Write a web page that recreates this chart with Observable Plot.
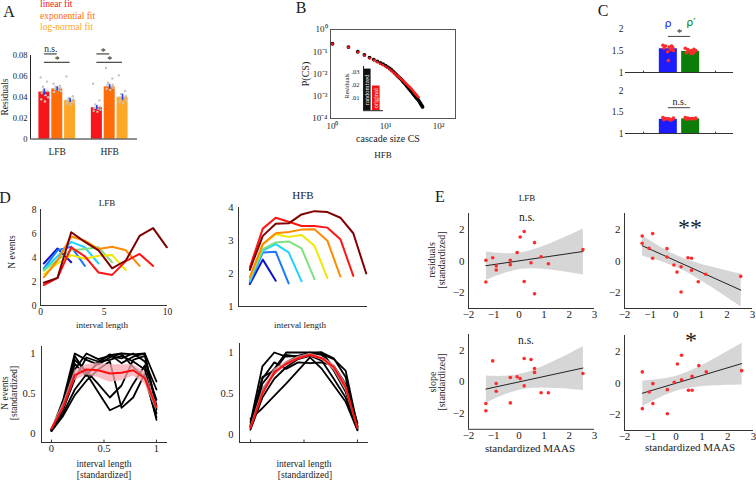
<!DOCTYPE html>
<html><head><meta charset="utf-8">
<script src="https://cdn.jsdelivr.net/npm/d3@7"></script>
<script src="https://cdn.jsdelivr.net/npm/@observablehq/plot@0.6"></script>
<style>
body{margin:0;background:#fff;}
#fig{position:relative;width:756px;height:481px;overflow:hidden;font-family:"Liberation Serif","Times New Roman",serif;color:#1a1a1a;background:#fff;}
#fig svg, #fig svg text, #fig svg g{font-family:"Liberation Serif","Times New Roman",serif !important;}
.lbl{position:absolute;white-space:nowrap;line-height:1;}
</style></head><body><div id="fig"></div>
<script>
// ---------------- DATA ----------------
// Panel A
const fitNames = ["linear fit", "exponential fit", "log-normal fit"];
const fitColors = ["#f5161b", "#ff6c0a", "#ffa726"];
const bandNames = ["LFB", "HFB"];
const residMean = [0.045, 0.048, 0.037, 0.030, 0.050, 0.040];
const residSem = [0.003, 0.002, 0.002, 0.002, 0.002, 0.003];
const residSubj = [
  [0.059, 0.055, 0.050, 0.046, 0.044, 0.042, 0.040, 0.038, 0.036, 0.047],
  [0.053, 0.051, 0.050, 0.049, 0.048, 0.047, 0.046, 0.045, 0.049, 0.048],
  [0.060, 0.041, 0.039, 0.038, 0.037, 0.036, 0.035, 0.034, 0.033, 0.037],
  [0.053, 0.037, 0.033, 0.031, 0.030, 0.029, 0.028, 0.027, 0.026, 0.030],
  [0.068, 0.058, 0.054, 0.052, 0.051, 0.050, 0.049, 0.048, 0.047, 0.053],
  [0.061, 0.046, 0.043, 0.041, 0.040, 0.039, 0.037, 0.036, 0.034, 0.038]];
const subjJitter = [-0.07, 0.05, -0.03, 0.06, -0.05, 0.02, 0.07, -0.06, 0.01, -0.02];
const sigA = [
  {a: 0, b: 1, y: 0.0815, t: "n.s."}, {a: 0, b: 2, y: 0.0735, t: "*"},
  {a: 3, b: 4, y: 0.0815, t: "*"}, {a: 3, b: 5, y: 0.0735, t: "*"}];

// Panel B
const cascadeSize = [1,2,3,4,5,6,7,8,9,10,11,12,13,14,15,16,17,18,19,20,21,22,23,24,25,26,27,28,29,30,31,32,33,34,35,36,37,38,39,40,42,44,46,48,50];
const pRandomized = [0.229,0.162,0.100,0.072,0.055,0.0447,0.0372,0.0316,0.0275,0.024,0.0204,0.0178,0.0151,0.0129,0.011,0.0093,0.0081,0.0071,0.0063,0.0056,0.0049,0.0043,0.0038,0.0034,0.0030,0.0027,0.0024,0.0022,0.00195,0.00178,0.00162,0.00148,0.00135,0.00123,0.00112,0.00105,0.00095,0.00089,0.00083,0.00076,0.00065,0.00055,0.00046,0.00039,0.00033];
const pOriginal = [0.225,0.160,0.098,0.068,0.051,0.041,0.034,0.029,0.025,0.0215,0.0185,0.016,0.0138,0.012,0.0104,0.0091,0.008,0.0071,0.0064,0.0058,0.0052,0.0047,0.0042,0.0038,0.0035,0.0032,0.0029,0.0027,0.0025,0.0023,0.0021,0.0019,0.00175,0.0016,0.00148,0.00137,0.00127,0.00118,0.0011,0.00102,0.0009];
const insetNames = ["randomized", "original"];
const insetResid = [0.032, 0.019];
const insetColors = ["#111111", "#ee1515"];

// Panel C
const cNames = ["ρ", "ρ′"];
const cColors = ["#1c1cff", "#0b7d0b"];
const cTopMean = [1.54, 1.48];
const cBotMean = [1.33, 1.34];
const cTopSubj = [[1.62, 1.60, 1.58, 1.57, 1.55, 1.52, 1.50, 1.47, 1.60, 1.27], [1.55, 1.52, 1.50, 1.48, 1.45, 1.43, 1.50, 1.47, 1.53, 1.44]];
const cBotSubj = [[1.37, 1.35, 1.34, 1.33, 1.32, 1.31, 1.36, 1.34], [1.37, 1.36, 1.35, 1.34, 1.33, 1.35, 1.36, 1.34]];
const cJitter = [-0.15, -0.08, 0.02, 0.12, -0.12, 0.06, 0.14, -0.02, 0.09, 0.0];

// Panel D
const jetColors = ["#1414c8", "#1a78ff", "#1fd4ff", "#7fe07f", "#f0e800", "#ff8a00", "#ff1414", "#800000"];
const lfbInterval = [0.26, 1.34, 2.42, 3.49, 4.57, 5.64, 6.72, 7.8, 8.87, 9.95];
const lfbEvents = [
  [3.5, 4.75, 3.6],
  [3.1, 4.6, 4.9, 3.3],
  [3.0, 4.1, 5.3, 4.85, 3.5],
  [2.9, 3.8, 4.6, 4.7, 4.85, 3.6],
  [2.6, 3.5, 4.2, 3.9, 4.15, 4.2, 2.95],
  [2.35, 3.75, 5.75, 5.4, 4.7, 4.9, 4.6, 3.3],
  [1.7, 2.3, 4.85, 4.1, 2.75, 2.55, 3.7, 4.3, 3.3],
  [1.9, 2.3, 6.1, 5.3, 4.6, 3.1, 3.75, 5.8, 6.45, 4.85]];
const hfbInterval = [1, 2, 3, 4, 5, 6, 7, 8, 9, 10];
const hfbEvents = [
  [1.68, 2.42, 1.78],
  [1.73, 2.64, 2.66, 1.70],
  [1.78, 2.69, 2.89, 2.64, 1.76],
  [1.83, 2.74, 2.94, 2.97, 2.76, 1.83],
  [1.88, 2.89, 3.19, 3.11, 3.17, 2.84, 1.86],
  [1.88, 2.89, 3.22, 3.26, 3.33, 3.34, 2.99, 1.91],
  [2.19, 3.36, 3.69, 3.57, 3.44, 3.44, 3.39, 3.04, 1.93],
  [2.11, 3.14, 3.51, 3.52, 3.79, 3.89, 3.86, 3.69, 3.22, 2.0]];
const stdInterval = [0, 0.111, 0.222, 0.333, 0.444, 0.556, 0.667, 0.778, 0.889, 1];
const lfbStd = [
  [0.04, 0.42, 1.00, 0.92, 0.86, 0.95, 1.00, 0.99, 1.00, 0.65],
  [0.03, 0.38, 0.97, 0.75, 0.52, 0.29, 0.36, 0.62, 0.85, 0.42],
  [0.05, 0.30, 0.80, 1.00, 0.93, 0.97, 0.94, 1.00, 0.90, 0.55],
  [0.04, 0.25, 0.55, 0.74, 0.88, 0.99, 0.88, 0.96, 1.00, 0.30],
  [0.06, 0.33, 0.87, 0.72, 0.90, 0.98, 1.00, 0.83, 0.70, 0.20],
  [0.03, 0.22, 0.48, 0.66, 0.80, 0.90, 0.32, 0.45, 0.75, 0.17],
  [0.05, 0.36, 0.92, 0.78, 0.62, 0.45, 0.60, 0.92, 0.97, 0.35],
  [0.04, 0.30, 0.68, 0.95, 0.90, 0.92, 0.97, 0.90, 0.80, 0.25]];
const lfbStdMean = [0.06, 0.33, 0.73, 0.80, 0.79, 0.75, 0.76, 0.79, 0.69, 0.33];
const lfbStdLo = [0.04, 0.29, 0.66, 0.73, 0.70, 0.64, 0.66, 0.72, 0.62, 0.28];
const lfbStdHi = [0.08, 0.38, 0.79, 0.86, 0.88, 0.86, 0.86, 0.86, 0.77, 0.38];
const hfbStd = [
  [0.15, 0.83, 1.00, 0.95, 0.96, 0.97, 0.98, 0.92, 0.78, 0.10],
  [0.10, 0.62, 0.80, 1.00, 1.00, 1.00, 1.00, 0.93, 0.70, 0.08],
  [0.19, 0.32, 0.47, 0.62, 0.78, 0.94, 0.80, 0.60, 0.40, 0.05],
  [0.10, 0.68, 0.88, 0.80, 0.88, 0.87, 0.88, 0.84, 0.62, 0.14],
  [0.08, 0.55, 0.74, 0.88, 0.96, 1.00, 0.97, 0.78, 0.52, 0.07],
  [0.12, 0.70, 0.78, 0.97, 0.95, 0.99, 1.00, 0.82, 0.57, 0.10],
  [0.06, 0.45, 0.68, 0.82, 0.92, 0.96, 0.90, 0.68, 0.45, 0.06]];
const hfbStdMean = [0.08, 0.50, 0.76, 0.86, 0.93, 0.97, 0.93, 0.82, 0.58, 0.08];
const hfbStdLo = [0.06, 0.45, 0.72, 0.83, 0.91, 0.95, 0.91, 0.78, 0.53, 0.06];
const hfbStdHi = [0.10, 0.55, 0.80, 0.89, 0.95, 0.99, 0.95, 0.86, 0.63, 0.10];

// Panel E
const maas = [-1.31, -1.31, -1.04, -0.9, -0.9, -0.34, -0.34, -0.07, 0.05, 0.21, 0.21, 0.48, 0.62, 0.62, 0.88, 1.17, 2.54];
const residLFB = [0.04, -1.33, 0.21, -0.32, -0.57, 0.04, -0.23, 0.53, 1.52, 1.86, -1.29, -0.11, 1.16, -2.07, 0.27, -0.17, 0.72];
const residHFB = [1.58, 1.12, 0.8, 1.73, 0.17, 0.78, 0.25, -0.25, -0.7, -0.36, -1.96, 0.21, 0.17, -0.59, -1.31, -0.84, -0.97];
const slopeLFB = [-1.37, -1.83, 1.33, -0.1, -0.59, 0.28, -1.33, 0.32, 0.21, 1.48, -0.25, 1.42, 0.85, 0.6, -0.69, -0.69, 0.53];
const slopeHFB = [0.7, -1.62, -0.57, -0.04, -1.3, -0.42, -1.94, 0.04, 1.2, 1.75, 0.21, -0.46, -0.46, 0.42, 1.1, 0.7, 0.78];

// ---------------- HELPERS ----------------
const fig = document.getElementById("fig");
const SERIF = '"Liberation Serif", "Times New Roman", serif';
function mk(box, m, fs, opts) {
  const [x0, x1, y0, y1] = box;
  const svg = Plot.plot(Object.assign({
    width: x1 - x0 + m[3] + m[1], height: y1 - y0 + m[0] + m[2],
    marginTop: m[0], marginRight: m[1], marginBottom: m[2], marginLeft: m[3],
    color: {type: "identity"},
    style: `font-family: ${SERIF}; font-size: ${fs}px; color: #1a1a1a; background: transparent; overflow: visible;`
  }, opts));
  svg.style.position = "absolute";
  svg.style.left = (x0 - m[3]) + "px";
  svg.style.top = (y0 - m[0]) + "px";
  svg.style.fontFamily = SERIF;
  svg.style.fontSize = fs + "px";
  fig.appendChild(svg);
  return svg;
}
function lab(t, x, y, o = {}) {
  const d = document.createElement("div");
  d.className = "lbl";
  d.textContent = t;
  d.style.left = x + "px";
  d.style.top = y + "px";
  d.style.fontSize = (o.s || 9) + "px";
  if (o.c) d.style.color = o.c;
  if (o.f) d.style.fontFamily = o.f;
  if (o.w) d.style.fontWeight = o.w;
  const a = o.a || "middle";
  const tx = a === "start" ? "0" : a === "end" ? "-100%" : "-50%";
  d.style.transform = `translate(${tx},-50%)` + (o.r ? ` rotate(${o.r}deg)` : "");
  fig.appendChild(d);
}
const sup = {"0": "⁰", "1": "¹", "2": "²", "3": "³", "4": "⁴", "-": "⁻"};
const pow10 = d => "10" + String(Math.round(Math.log10(d))).split("").map(c => sup[c]).join("");
const numFmt = d => (d < 0 ? "\u2212" + Math.abs(d) : String(d));

// ---------------- PANEL A ----------------
const aBars = residMean.map((m, i) => {
  const g = Math.floor(i / 3), f = i % 3;
  const x = g + 1 + (f - 1) * 0.245;
  return {x, m, lo: m - residSem[i], hi: m + residSem[i], c: fitColors[f]};
});
const aDots = [];
residSubj.forEach((arr, i) => arr.forEach((v, k) => aDots.push({x: aBars[i].x + subjJitter[k], y: v})));
const aSig = sigA.map(s => ({x1: aBars[s.a].x, x2: aBars[s.b].x, y: s.y, t: s.t}));
mk([30, 137, 54.5, 138], [12, 4, 22, 30], 8.5, {
  x: {domain: [0.49, 2.53], axis: null},
  y: {domain: [0, 0.08], axis: null},
  marks: [
    Plot.rectY(aBars, {x1: d => d.x - 0.105, x2: d => d.x + 0.105, y1: 0, y2: "m", fill: "c"}),
    Plot.dot(aDots, {x: "x", y: "y", r: 1.2, fill: "#c4c4c4"}),
    Plot.ruleX(aBars, {x: "x", y1: "lo", y2: "hi", stroke: "#2a3cf0", strokeWidth: 1.6}),
    Plot.ruleX([0.49], {stroke: "#222"}),
    Plot.ruleY([0], {stroke: "#222"}),
    Plot.axisY({ticks: [0, 0.02, 0.04, 0.06, 0.08], tickFormat: d => d === 0 ? "0" : d.toFixed(2), tickSize: 0, tickPadding: 3, label: null}),
    Plot.axisX({ticks: [1, 2], tickFormat: d => bandNames[d - 1], tickSize: 0, tickPadding: 9, label: null, fontSize: 9.5}),
    Plot.ruleY(aSig, {x1: "x1", x2: "x2", y: "y", stroke: "#222"}),
    Plot.text(aSig.filter(d => d.t !== "*"), {x: d => (d.x1 + d.x2) / 2, y: "y", text: "t", dy: -5, fontSize: 9.5}),
    Plot.text(aSig.filter(d => d.t === "*"), {x: d => (d.x1 + d.x2) / 2, y: "y", text: "t", dy: -2, fontSize: 10})
  ]
});
lab("A", 9, 12, {s: 16});
fitNames.forEach((n, i) => lab(n, 40, 5 + i * 11.5, {s: 9.5, c: fitColors[i], a: "start"}));
lab("Residuals", 6, 97, {s: 9.5, r: -90});

// ---------------- PANEL B ----------------
const bRand = cascadeSize.map((c, i) => ({c, p: pRandomized[i]}));
const bOrig = pOriginal.map((p, i) => ({c: cascadeSize[i], p}));
mk([330, 455, 29, 118], [6, 4, 20, 28], 9, {
  x: {type: "log", domain: [0.917, 209], axis: null},
  y: {type: "log", domain: [1e-4, 1], axis: null},
  marks: [
    Plot.frame({stroke: "#555"}),
    Plot.dot(bRand, {x: "c", y: "p", r: 1.9, fill: "#000"}),
    Plot.dot(bOrig, {x: "c", y: "p", r: 1.3, fill: "#ff1a1a"}),
    Plot.axisX({ticks: [1, 10, 100], tickFormat: pow10, tickSize: 0, tickPadding: 4, label: null}),
    Plot.axisY({ticks: [1e-4, 1e-3, 1e-2, 1e-1, 1], tickFormat: pow10, tickSize: 0, tickPadding: 3, label: null})
  ]
});
const insetRows = insetNames.map((n, i) => ({n, v: insetResid[i], x1: i * 0.45, x2: i * 0.45 + 0.38, c: insetColors[i]}));
mk([363, 383, 65.8, 110], [2, 2, 2, 24], 6.5, {
  x: {domain: [0, 1], axis: null},
  y: {domain: [0, 0.034], axis: null},
  marks: [
    Plot.rectY(insetRows, {x1: "x1", x2: "x2", y1: 0, y2: "v", fill: "c"}),
    Plot.text(insetRows, {x: d => (d.x1 + d.x2) / 2, y: d => d.v / 2, text: "n", rotate: -90, fill: "white", fontSize: 6.5}),
    Plot.ruleY([0], {stroke: "#222"}),
    Plot.ruleX([0], {y1: 0, y2: 0.034, stroke: "#222"}),
    Plot.axisY({ticks: [0.01, 0.02, 0.03], tickFormat: d => d.toFixed(2).slice(1), tickSize: 0, tickPadding: 4, label: null})
  ]
});
lab("B", 301, 8, {s: 16});
lab("P(CS)", 306, 74, {s: 10, r: -90});
lab("Residuals", 347, 86, {s: 6.5, r: -90});
lab("cascade size CS", 388, 139, {s: 10});
lab("HFB", 383, 155, {s: 9});

// ---------------- PANEL C ----------------
function panelC(box, means, subj, sig, showNames) {
  const bars = means.map((m, i) => ({x: 2 + (i === 0 ? -0.31 : 0.31), m, c: cColors[i], n: cNames[i]}));
  const dots = [];
  subj.forEach((arr, i) => arr.forEach((v, k) => dots.push({x: bars[i].x + cJitter[k], y: v})));
  const marks = [
    Plot.rectY(bars, {x1: d => d.x - 0.25, x2: d => d.x + 0.25, y1: 1, y2: "m", fill: "c"}),
    Plot.dot(dots, {x: "x", y: "y", r: 1.8, fill: "#ff2a2a"}),
    Plot.ruleY([1], {stroke: "#333"}),
    Plot.ruleX([1, 3], {y1: 1, y2: 1.03, stroke: "#333"}),
    Plot.axisY({ticks: [1, 1.5, 2], tickFormat: d => String(d), tickSize: 0, tickPadding: 2, label: null}),
    Plot.ruleY([sig], {x1: bars[0].x, x2: bars[1].x, y: "y", stroke: "#444"}),
    Plot.text([sig], {x: 2, y: "y", text: "t", dy: sig.t === "*" ? -4 : -6, fontSize: sig.t === "*" ? 11 : 10})
  ];
  mk(box, [4, 4, 4, 24], 9.5, {
    x: {domain: [0.5, 3.5], axis: null},
    y: {domain: [1, 2], axis: null},
    marks
  });
}
panelC([625, 733, 28, 72], cTopMean, cTopSubj, {y: 1.82, t: "*"}, true);
panelC([625, 733, 90, 133], cBotMean, cBotSubj, {y: 1.6, t: "n.s."}, false);
lab("C", 603, 11, {s: 16});
lab(cNames[0], 668, 23, {s: 11, c: cColors[0], f: '"DejaVu Sans", sans-serif'});
lab(cNames[1], 691, 22, {s: 11, c: cColors[1], f: '"DejaVu Sans", sans-serif'});

// ---------------- PANEL D ----------------
const dTL = [];
lfbEvents.forEach((arr, k) => arr.forEach((v, i) => dTL.push({k, x: lfbInterval[i], y: v, c: jetColors[k]})));
mk([40, 167, 209, 305], [4, 4, 16, 22], 9.5, {
  x: {domain: [0, 10], axis: null},
  y: {domain: [0, 8], axis: null},
  marks: [
    Plot.line(dTL, {x: "x", y: "y", z: "k", stroke: "c", strokeWidth: 2}),
    Plot.ruleX([0], {stroke: "#333"}),
    Plot.ruleY([0], {stroke: "#333"}),
    Plot.axisY({ticks: [0, 2, 4, 6, 8], tickFormat: d => String(d), tickSize: 0, tickPadding: 4, label: null}),
    Plot.axisX({ticks: [0, 5, 10], tickFormat: d => String(d), tickSize: 0, tickPadding: 3, label: null})
  ]
});
const dTR = [];
hfbEvents.forEach((arr, k) => arr.forEach((v, i) => dTR.push({k, x: hfbInterval[i], y: v, c: jetColors[k]})));
mk([238, 367, 207, 306], [4, 4, 16, 22], 10.5, {
  x: {domain: [0.12, 10.1], axis: null},
  y: {domain: [1, 4], axis: null},
  marks: [
    Plot.line(dTR, {x: "x", y: "y", z: "k", stroke: "c", strokeWidth: 2}),
    Plot.ruleX([0.12], {stroke: "#333"}),
    Plot.ruleY([1], {stroke: "#333"}),
    Plot.axisY({ticks: [1, 2, 3, 4], tickFormat: d => String(d), tickSize: 0, tickPadding: 5, label: null})
  ]
});
function stdPanel(box, xd, yd, lines, mean, lo, hi, showX, fs) {
  const rows = [];
  lines.forEach((arr, k) => arr.forEach((v, i) => rows.push({k, x: stdInterval[i], y: v})));
  const m = mean.map((v, i) => ({x: stdInterval[i], y: v, lo: lo[i], hi: hi[i]}));
  const marks = [
    Plot.line(rows, {x: "x", y: "y", z: "k", stroke: "#000", strokeWidth: 1.8}),
    Plot.areaY(m, {x: "x", y1: "lo", y2: "hi", fill: "#f7a8b0", fillOpacity: 0.75}),
    Plot.line(m, {x: "x", y: "y", stroke: "#ff1010", strokeWidth: 2}),
    Plot.ruleX([xd[0]], {stroke: "#333"}),
    Plot.ruleY([yd[0]], {stroke: "#333"}),
    Plot.ruleX([0, 0.5, 1], {y1: yd[0], y2: yd[0] + 0.03, stroke: "#333"}),
    Plot.axisY({ticks: [0, 0.5, 1], tickFormat: d => String(d), tickSize: 0, tickPadding: 6, label: null})
  ];
  if (showX) marks.push(Plot.axisX({ticks: [0, 0.5, 1], tickFormat: d => String(d), tickSize: 0, tickPadding: 2, label: null}));
  mk(box, [4, 4, 20, 24], fs, {x: {domain: xd, axis: null}, y: {domain: yd, axis: null}, marks});
}
stdPanel([41, 167, 346, 442], [-0.095, 1.105], [-0.1125, 1.0875], lfbStd, lfbStdMean, lfbStdLo, lfbStdHi, true, 10.5);
stdPanel([239, 368, 343, 442], [-0.103, 1.103], [-0.098, 1.11], hfbStd, hfbStdMean, hfbStdLo, hfbStdHi, false, 10.5);
lab("D", 5, 198, {s: 16});
lab("LFB", 107, 203, {s: 9});
lab("HFB", 303, 195, {s: 11});
lab("N events", 13, 252, {s: 9.5, r: -90});
lab("interval length", 102, 325, {s: 9});
lab("interval length", 300, 325, {s: 9});
lab("N events", 6, 393, {s: 9.5, r: -90});
lab("[standardized]", 15, 393, {s: 9.5, r: -90});
lab("interval length", 104, 465, {s: 9.5});
lab("[standardized]", 104, 476, {s: 9.5});
lab("interval length", 304, 465, {s: 9.5});
lab("[standardized]", 305, 476, {s: 9.5});

// ---------------- PANEL E ----------------
function ePanel(box, ys) {
  const rows = maas.map((x, i) => ({x, y: ys[i]}));
  mk(box, [4, 6, 22, 30], 11, {
    x: {domain: [-2, 3], axis: null},
    y: {domain: [-3, 3], axis: null},
    marks: [
      Plot.linearRegressionY(rows, {x: "x", y: "y", stroke: "#222", strokeWidth: 1, fill: "#999", fillOpacity: 0.4}),
      Plot.dot(rows, {x: "x", y: "y", r: 1.8, fill: "#ff2a2a"}),
      Plot.ruleX([-2], {stroke: "#333"}),
      Plot.ruleY([-3], {stroke: "#333"}),
      Plot.axisY({ticks: [-2, 0, 2], tickFormat: numFmt, tickSize: 0, tickPadding: 4, label: null}),
      Plot.axisX({ticks: [-2, -1, 0, 1, 2, 3], tickFormat: numFmt, tickSize: 0, tickPadding: 2, label: null})
    ]
  });
}
ePanel([468, 594, 212.5, 307.5], residLFB);
ePanel([624, 752, 212.5, 307.5], residHFB);
ePanel([468, 594, 334.3, 429.1], slopeLFB);
ePanel([624, 753, 334.5, 429.5], slopeHFB);
lab("E", 440, 197, {s: 16});
lab("LFB", 527, 198, {s: 9});
lab("n.s.", 527, 218, {s: 11.5});
lab("**", 690, 227, {s: 24});
lab("n.s.", 526, 341, {s: 11.5});
lab("*", 691, 340, {s: 24});
lab("residuals", 432, 260, {s: 10, r: -90});
lab("[standardized]", 442, 260, {s: 10, r: -90});
lab("slope", 433, 382, {s: 10, r: -90});
lab("[standardized]", 442, 382, {s: 10, r: -90});
lab("standardized MAAS", 530, 448, {s: 11});
lab("standardized MAAS", 690, 447, {s: 11});
</script>
</body></html>
